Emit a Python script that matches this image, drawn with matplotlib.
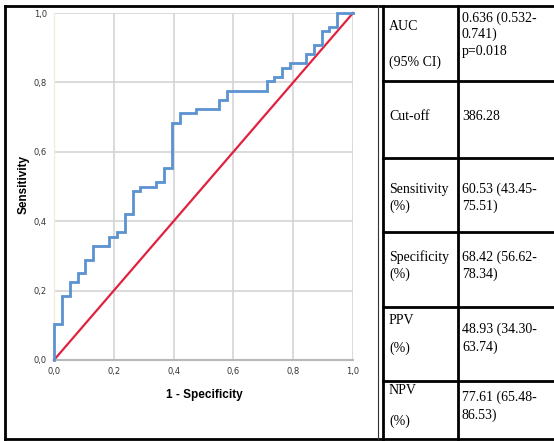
import matplotlib
matplotlib.use("Agg")
import matplotlib.pyplot as plt
from matplotlib.lines import Line2D

# ROC curve corner points (step curve, horizontal then vertical)
fpr = [0.0, 0.0, 0.026, 0.053, 0.079, 0.105, 0.132, 0.184, 0.211, 0.237,
       0.263, 0.289, 0.342, 0.368, 0.395, 0.421, 0.474, 0.553, 0.579,
       0.711, 0.737, 0.763, 0.789, 0.842, 0.868, 0.895, 0.921, 0.947, 1.0]
tpr = [0.0, 0.105, 0.184, 0.224, 0.250, 0.289, 0.329, 0.355, 0.368, 0.421,
       0.487, 0.500, 0.513, 0.553, 0.684, 0.711, 0.724, 0.750, 0.776,
       0.803, 0.816, 0.842, 0.855, 0.882, 0.908, 0.947, 0.961, 1.0, 1.0]
ref_line = [0.0, 1.0]

tick_vals = [0.0, 0.2, 0.4, 0.6, 0.8, 1.0]
tick_labels = ["0,0", "0,2", "0,4", "0,6", "0,8", "1,0"]

table_left = [["AUC", "(95% CI)"], ["Cut-off"], ["Sensitivity", "(%)"],
              ["Specificity", "(%)"], ["PPV", "(%)"], ["NPV", "(%)"]]
table_right = [["0.636 (0.532-", "0.741)", "p=0.018"], ["386.28"],
               ["60.53 (43.45-", "75.51)"], ["68.42 (56.62-", "78.34)"],
               ["48.93 (34.30-", "63.74)"], ["77.61 (65.48-", "86.53)"]]

W, H = 554, 441
fig = plt.figure(figsize=(W / 100, H / 100), dpi=100)

# overlay for frame and table
ov = fig.add_axes([0, 0, 1, 1])
ov.set_xlim(0, W)
ov.set_ylim(H, 0)
ov.axis("off")

lw_b = 2.0
# outer frame
ov.add_line(Line2D([5, W], [6, 6], color="black", lw=lw_b))
ov.add_line(Line2D([5, W], [439, 439], color="black", lw=lw_b))
ov.add_line(Line2D([5, 5], [6, 439], color="black", lw=lw_b))
ov.add_line(Line2D([378, 378], [6, 439], color="#333333", lw=0.8))
ov.add_line(Line2D([382.5, 382.5], [6, 439], color="black", lw=lw_b))
ov.add_line(Line2D([457.5, 457.5], [6, 439], color="black", lw=lw_b))

row_bounds = [6, 81, 158, 232, 307, 381, 439]
for yb in row_bounds[1:-1]:
    ov.add_line(Line2D([382.5, W], [yb, yb], color="black", lw=lw_b))

serif = ["Liberation Serif", "DejaVu Serif"]
# vertical centres (px from top) of each text line
left_y = [[26, 61], [115], [188, 205], [256, 273], [319, 347], [390, 420]]
right_y = [[17, 33, 50], [115], [188, 205], [256, 273], [328, 346], [396, 414]]

for lines, ys in zip(table_left, left_y):
    for line, y in zip(lines, ys):
        ov.text(389, y + 4.5, line, fontsize=10, family=serif,
                ha="left", va="baseline", color="black")
for lines, ys in zip(table_right, right_y):
    for line, y in zip(lines, ys):
        ov.text(462, y + 4.5, line, fontsize=10, family=serif,
                ha="left", va="baseline", color="black")

# main ROC axes
ax = fig.add_axes([54 / W, 81 / H, 299 / W, 347 / H])
ax.set_facecolor("white")
ax.set_xlim(0, 1)
ax.set_ylim(0, 1)
ax.set_xticks(tick_vals)
ax.set_yticks(tick_vals)
ax.set_xticklabels(tick_labels)
ax.set_yticklabels(tick_labels)
ax.tick_params(length=0, labelsize=6, colors="#333333", pad=5)
ax.grid(True, color="#d4d4d4", lw=1.2)
ax.set_axisbelow(True)
for s in ["top", "right"]:
    ax.spines[s].set_visible(False)
ax.spines["left"].set_color("#f3ecd8")
ax.spines["left"].set_linewidth(1.0)
ax.spines["bottom"].set_color("#b8b8b8")
ax.spines["bottom"].set_linewidth(1.5)

ax.plot(ref_line, ref_line, color="#e0223f", lw=1.6, zorder=3, clip_on=False)
ax.plot(fpr, tpr, drawstyle="steps-post", color="#5b93d0", lw=2.0,
        zorder=4, clip_on=False, solid_joinstyle="miter")

ax.set_xlabel("1 - Specificity", fontsize=8.5, fontweight="bold",
              family=["Liberation Sans", "DejaVu Sans"])
ax.set_ylabel("Sensitivity", fontsize=8.5, fontweight="bold",
              family=["Liberation Sans", "DejaVu Sans"])
ax.xaxis.set_label_coords(150 / 299, -(389 - 360) / 347)
ax.yaxis.set_label_coords(-(54 - 30) / 299, (360 - 184) / 347)

fig.savefig("out.png", dpi=100)
